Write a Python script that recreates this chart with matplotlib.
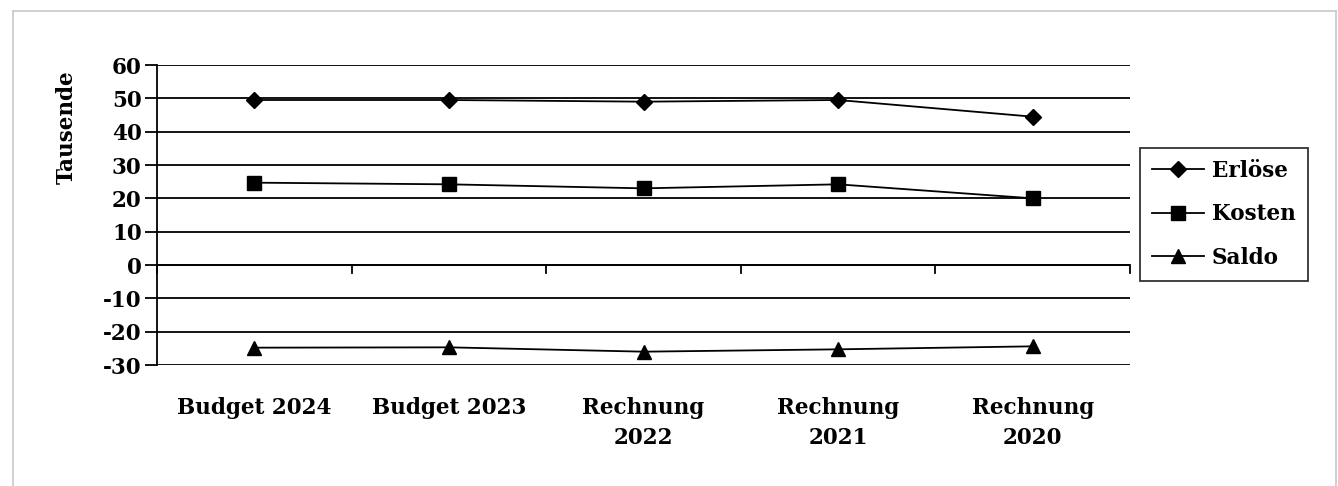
import matplotlib.pyplot as plt
from matplotlib.lines import Line2D
import numpy as np

categories = ["Budget 2024", "Budget 2023", "Rechnung\n2022", "Rechnung\n2021", "Rechnung\n2020"]
erloese = [49.5, 49.5, 49.0, 49.5, 44.5]
kosten = [24.7, 24.2, 23.0, 24.2, 20.0]
saldo = [-24.8, -24.7, -26.0, -25.3, -24.4]
y_ticks = [-30, -20, -10, 0, 10, 20, 30, 40, 50, 60]

plt.rcParams['font.family'] = ['DejaVu Serif']
plt.rcParams['font.weight'] = 'bold'
plt.rcParams['axes.unicode_minus'] = False
FS = 15.5

fig = plt.figure(figsize=(13.38, 4.86), dpi=100)
W, H = 1338, 486

# thin grey frame around the chart area
fig.add_artist(Line2D([13 / W, 13 / W], [0, 1 - 11 / H], color='#c8c8c8', lw=1.2))
fig.add_artist(Line2D([13 / W, 1336 / W], [1 - 11 / H, 1 - 11 / H], color='#c8c8c8', lw=1.2))
fig.add_artist(Line2D([1336 / W, 1336 / W], [0, 1 - 11 / H], color='#c8c8c8', lw=1.2))

ax = fig.add_axes([157 / W, 1 - 365 / H, (1130 - 157) / W, 300 / H])

x = np.arange(len(categories))
ax.set_xlim(-0.5, len(categories) - 0.5)
ax.set_ylim(-30, 60)
ax.set_yticks(y_ticks)
ax.yaxis.grid(True, color='black', lw=1.3)
ax.set_axisbelow(True)

ax.plot(x, erloese, color='black', lw=1.3, marker='D', ms=8, label='Erlöse')
ax.plot(x, kosten, color='black', lw=1.3, marker='s', ms=10, label='Kosten')
ax.plot(x, saldo, color='black', lw=1.3, marker='^', ms=10, label='Saldo')

for side in ['top', 'right', 'bottom']:
    ax.spines[side].set_visible(False)
ax.spines['left'].set_linewidth(1.3)

# category axis sits at zero, with ticks between categories
ax.axhline(0, color='black', lw=1.3)
for b in np.arange(-0.5, len(categories), 1.0):
    ax.plot([b, b], [0, -2.4], color='black', lw=1.3, clip_on=False)

ax.set_xticks(x)
ax.set_xticklabels([])
for xi, lab in zip(x, categories):
    ax.text(xi, -39.5, lab, ha='center', va='top', fontsize=FS, fontweight='bold',
            linespacing=1.5)
ax.tick_params(axis='x', length=0)
ax.tick_params(axis='y', length=9, width=1.3, labelsize=FS, pad=2)
for t in ax.get_yticklabels():
    t.set_fontweight('bold')

fig.text(67 / W, 1 - 127 / H, 'Tausende', rotation=90, ha='center', va='center',
         fontsize=FS, fontweight='bold')

leg = ax.legend(loc='upper left', bbox_to_anchor=(1140 / W, 1 - 148 / H),
                bbox_transform=fig.transFigure, frameon=True, fancybox=False,
                edgecolor='black', fontsize=FS, handlelength=2.4, borderpad=0.55,
                labelspacing=1.0, handletextpad=0.4, borderaxespad=0)
leg.get_frame().set_linewidth(1.3)
for t in leg.get_texts():
    t.set_fontweight('bold')

fig.savefig('out.png', dpi=100)
